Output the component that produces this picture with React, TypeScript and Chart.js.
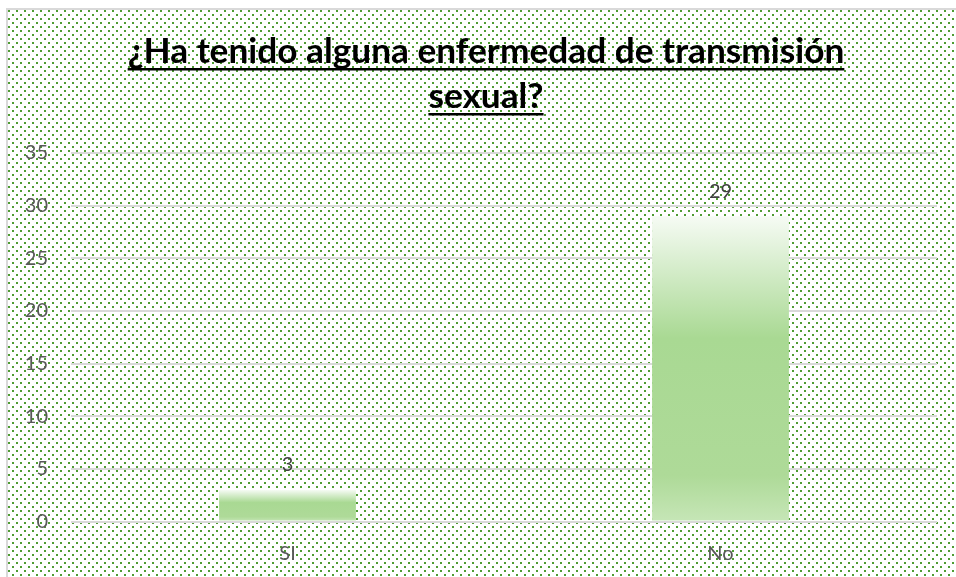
import React, { useEffect, useRef } from "react";
import { Chart, registerables } from "chart.js";

Chart.register(...registerables);

const categories = ["SI", "No"];
const values = [3, 29];
const titleLines = ["¿Ha tenido alguna enfermedad de transmisión", "sexual?"];
const yMin = 0;
const yMax = 35;
const yStep = 5;

const FONT = "Lato, 'Open Sans', 'DejaVu Sans', sans-serif";

function makePattern(ctx: CanvasRenderingContext2D) {
  const off = document.createElement("canvas");
  off.width = 8;
  off.height = 8;
  const o = off.getContext("2d")!;
  o.fillStyle = "#ffffff";
  o.fillRect(0, 0, 8, 8);
  o.fillStyle = "#4f9c33";
  o.fillRect(0, 0, 2, 2);
  o.fillRect(4, 4, 2, 2);
  return ctx.createPattern(off, "repeat");
}

const backgroundPlugin = {
  id: "patternBg",
  beforeDraw(chart: any) {
    const ctx = chart.ctx as CanvasRenderingContext2D;
    ctx.save();
    const p = makePattern(ctx);
    if (p) ctx.fillStyle = p;
    ctx.fillRect(0, 0, chart.width, chart.height);
    ctx.restore();
  },
};

const titlePlugin = {
  id: "underlinedTitle",
  afterDraw(chart: any) {
    const ctx = chart.ctx as CanvasRenderingContext2D;
    ctx.save();
    ctx.font = `bold 100px ${FONT}`;
    const w100 = ctx.measureText(titleLines[0]).width;
    const size = Math.min(38, (717 / w100) * 100);
    ctx.font = `bold ${size}px ${FONT}`;
    ctx.fillStyle = "#000000";
    ctx.textAlign = "center";
    ctx.textBaseline = "alphabetic";
    const cx = 478;
    const baselines = [53, 98];
    titleLines.forEach((line, i) => {
      const y = baselines[i];
      ctx.fillText(line, cx, y);
      const w = ctx.measureText(line).width;
      ctx.fillRect(cx - w / 2, y + 5, w, 2.5);
    });
    ctx.restore();
  },
};

const labelPlugin = {
  id: "valueLabels",
  afterDatasetsDraw(chart: any) {
    const ctx = chart.ctx as CanvasRenderingContext2D;
    const meta = chart.getDatasetMeta(0);
    ctx.save();
    ctx.font = `20px ${FONT}`;
    ctx.fillStyle = "#404040";
    ctx.textAlign = "center";
    ctx.textBaseline = "middle";
    meta.data.forEach((bar: any, i: number) => {
      ctx.fillText(String(values[i]), bar.x, bar.y - 25);
    });
    ctx.restore();
  },
};

export default function App() {
  const ref = useRef<HTMLCanvasElement>(null);

  useEffect(() => {
    document.body.style.overflow = "hidden";
    const canvas = ref.current!;
    const chart = new Chart(canvas, {
      type: "bar",
      data: {
        labels: categories,
        datasets: [
          {
            data: values,
            borderWidth: 0,
            barPercentage: 0.316,
            categoryPercentage: 1,
            backgroundColor: (c: any) => {
              const chartObj = c.chart;
              const ys = chartObj.scales?.y;
              if (!ys || c.raw == null) return "#a9d993";
              const top = ys.getPixelForValue(c.raw);
              const base = ys.getPixelForValue(0);
              if (!isFinite(top) || !isFinite(base) || top === base) return "#a9d993";
              const g = chartObj.ctx.createLinearGradient(0, top, 0, base);
              g.addColorStop(0, "#f6fbf4");
              g.addColorStop(0.4, "#a9d993");
              g.addColorStop(0.85, "#aeda98");
              g.addColorStop(1, "#c6e6b7");
              return g;
            },
          },
        ],
      },
      options: {
        responsive: false,
        animation: false,
        layout: { padding: { top: 143, right: 19, left: 0, bottom: 0 } },
        plugins: {
          legend: { display: false },
          title: { display: false },
          tooltip: { enabled: false },
        },
        scales: {
          x: {
            grid: { display: false, drawTicks: false },
            border: { display: false },
            ticks: {
              padding: 20,
              color: "#595959",
              font: { family: FONT, size: 20 },
            },
            afterFit(s: any) {
              s.height = 55.5;
            },
          },
          y: {
            min: yMin,
            max: yMax,
            grid: { color: "#d9d9d9", lineWidth: 2, drawTicks: false },
            border: { display: false },
            ticks: {
              stepSize: yStep,
              padding: 23,
              color: "#595959",
              font: { family: FONT, size: 20 },
            },
            afterFit(s: any) {
              s.width = 63;
            },
          },
        },
      },
      plugins: [backgroundPlugin, titlePlugin, labelPlugin],
    });
    return () => chart.destroy();
  }, []);

  return (
    <div
      style={{
        position: "fixed",
        left: 6,
        top: 8,
        width: 950,
        height: 569,
        borderLeft: "2px solid #d9d9d9",
        borderTop: "2px solid #d9d9d9",
        overflow: "hidden",
      }}
    >
      <canvas ref={ref} width={948} height={567} style={{ display: "block" }} />
    </div>
  );
}
